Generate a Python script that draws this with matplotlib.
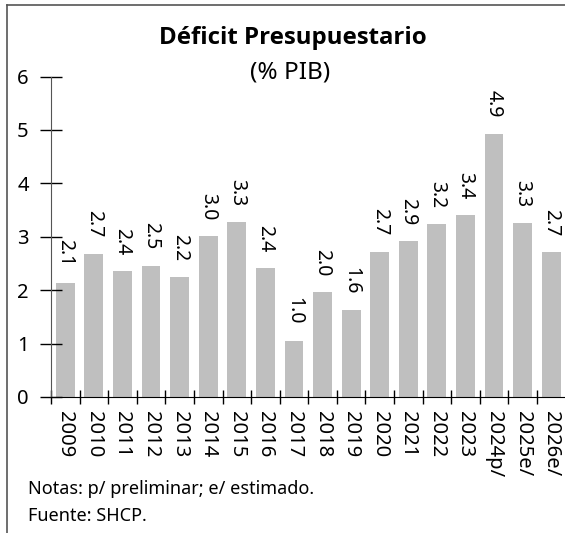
import matplotlib
matplotlib.use("Agg")
import matplotlib.pyplot as plt
from matplotlib.lines import Line2D
import numpy as np

plt.rcParams['font.family'] = ['Noto Sans', 'DejaVu Sans']

years = ["2009", "2010", "2011", "2012", "2013", "2014", "2015", "2016", "2017",
         "2018", "2019", "2020", "2021", "2022", "2023", "2024p/", "2025e/", "2026e/"]
values = [2.14, 2.68, 2.36, 2.46, 2.24, 3.01, 3.27, 2.42, 1.05,
          1.96, 1.63, 2.72, 2.92, 3.24, 3.41, 4.93, 3.26, 2.71]
labels = ["2.1", "2.7", "2.4", "2.5", "2.2", "3.0", "3.3", "2.4", "1.0",
          "2.0", "1.6", "2.7", "2.9", "3.2", "3.4", "4.9", "3.3", "2.7"]
yticks = [0, 1, 2, 3, 4, 5, 6]

W, H = 565, 533
fig = plt.figure(figsize=(W / 100, H / 100), dpi=100)
ax = fig.add_axes([51 / W, (H - 397) / H, (565.5 - 51) / W, (397 - 76.5) / H])

x = np.arange(len(years))
ax.bar(x, values, width=0.66, color='#bfbfbf', edgecolor='none')
for xi, v, lab in zip(x, values, labels):
    ax.annotate(lab, (xi, v), xytext=(0, 11.5), textcoords='offset points',
                rotation=270, ha='center', va='bottom', fontsize=14, color='black')

ax.set_xlim(-0.5, len(years) - 0.5)
ax.set_ylim(0, 6)
ax.set_yticks(yticks)
ax.set_yticklabels([str(t) for t in yticks], fontsize=14.5)
ax.tick_params(axis='y', direction='inout', length=16, width=1, pad=8, colors='black')

ax.set_xticks(x - 0.5, minor=False)
ax.set_xticklabels([])
ax.set_xticks(x, minor=True)
ax.set_xticklabels(years, minor=True, rotation=270, fontsize=14.5)
ax.tick_params(axis='x', which='major', direction='inout', length=10, width=1)
ax.tick_params(axis='x', which='minor', length=0, pad=10)
for t in ax.get_xticklabels(minor=True):
    t.set_va('top')
    t.set_ha('center')

for s in ['top', 'right']:
    ax.spines[s].set_visible(False)
ax.spines['left'].set_color('#555555')
ax.spines['bottom'].set_color('black')

fig.text(293 / W, 1 - 44.3 / H, "Déficit Presupuestario", ha='center', va='baseline',
         fontsize=17.3, fontweight='bold', family=['Open Sans', 'DejaVu Sans'])
fig.text(290 / W, 1 - 79 / H, "(% PIB)", ha='center', va='baseline', fontsize=17.5)

fig.text(28 / W, 1 - 494.5 / H, "Notas: p/ preliminar; e/ estimado.", ha='left', va='baseline', fontsize=13)
fig.text(28 / W, 1 - 521 / H, "Fuente: SHCP.", ha='left', va='baseline', fontsize=13)

fig.add_artist(Line2D([6.5 / W, 6.5 / W], [0, 1 - 5 / H], transform=fig.transFigure,
                      color='#555555', lw=1.2))
fig.add_artist(Line2D([6.5 / W, 1], [1 - 5 / H, 1 - 5 / H], transform=fig.transFigure,
                      color='#555555', lw=1.2))

fig.savefig("out.png", dpi=100)
